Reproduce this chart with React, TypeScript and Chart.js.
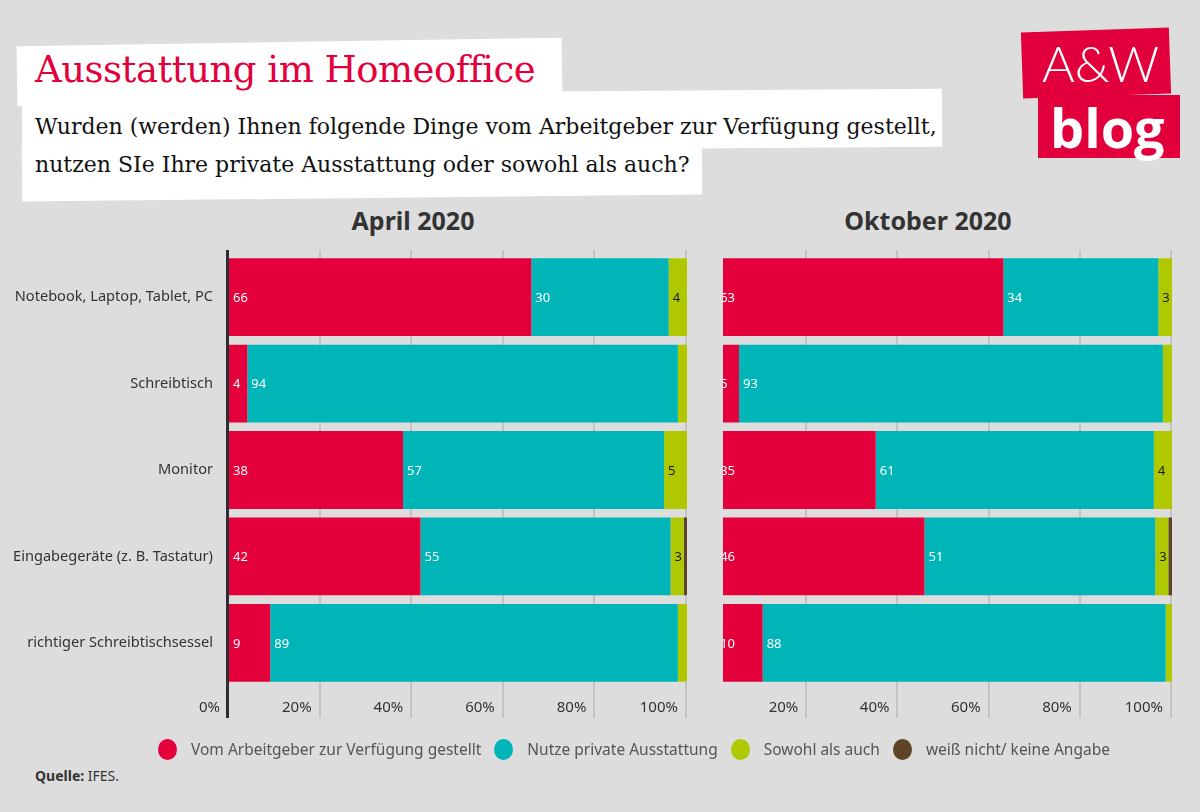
import React, { useEffect, useRef } from "react";
import { Chart, registerables } from "chart.js";

Chart.register(...registerables);

// ---------- data ----------
const categories = [
  "Notebook, Laptop, Tablet, PC",
  "Schreibtisch",
  "Monitor",
  "Eingabegeräte (z. B. Tastatur)",
  "richtiger Schreibtischsessel",
];
const seriesNames = [
  "Vom Arbeitgeber zur Verfügung gestellt",
  "Nutze private Ausstattung",
  "Sowohl als auch",
  "weiß nicht/ keine Angabe",
];
const seriesColors = ["#e4003b", "#00b5b8", "#b0c800", "#5e4426"];
const labelColors = ["#ffffff", "#ffffff", "#1a1a1a", "#ffffff"];

const aprilEmployer = [66, 4, 38, 41.8, 9];
const aprilPrivate = [30, 94, 57, 54.6, 89];
const aprilBoth = [4, 2, 5, 2.9, 2];
const aprilUnknown = [0, 0, 0, 0.7, 0];

const octEmployer = [63, 5, 35, 45.7, 10.2];
const octPrivate = [34, 93, 61, 50.6, 88.4];
const octBoth = [3, 2, 4, 2.9, 1.4];
const octUnknown = [0, 0, 0, 0.8, 0];

const xTickValues = [0, 20, 40, 60, 80, 100];
const panelTitles = ["April 2020", "Oktober 2020"];

const FONT = "'Noto Sans', 'DejaVu Sans', sans-serif";

const decorPlugin = {
  id: "decor",
  beforeDatasetsDraw(chart: any, _a: any, opts: any) {
    const { ctx, chartArea: ca } = chart;
    const x = chart.scales.x;
    ctx.save();
    ctx.strokeStyle = "#c3c3c3";
    ctx.lineWidth = 2;
    for (const v of xTickValues) {
      if (v <= x.min) continue;
      const px = Math.round(x.getPixelForValue(v)) - 1;
      ctx.beginPath();
      ctx.moveTo(px, ca.top - 4);
      ctx.lineTo(px, ca.bottom + 32);
      ctx.stroke();
    }
    ctx.fillStyle = "#333333";
    ctx.font = `15px ${FONT}`;
    ctx.textAlign = "right";
    ctx.textBaseline = "middle";
    for (const v of xTickValues) {
      if (v < x.min) continue;
      ctx.fillText(v + "%", x.getPixelForValue(v) - 9, ca.bottom + 22);
    }
    ctx.restore();
  },
  afterDatasetsDraw(chart: any, _a: any, opts: any) {
    const { ctx, chartArea: ca } = chart;
    ctx.save();
    ctx.beginPath();
    ctx.rect(ca.left, ca.top - 10, ca.right - ca.left, ca.bottom - ca.top + 20);
    ctx.clip();
    ctx.font = `13px ${FONT}`;
    ctx.textAlign = "left";
    ctx.textBaseline = "middle";
    chart.data.datasets.forEach((ds: any, i: number) => {
      const meta = chart.getDatasetMeta(i);
      meta.data.forEach((bar: any, j: number) => {
        const v = ds.data[j];
        if (v < 2.5) return;
        const left = Math.min(bar.x, bar.base);
        ctx.fillStyle = labelColors[i];
        ctx.fillText(String(Math.round(v)), left + 4, bar.y + 1);
      });
    });
    ctx.restore();
    if (opts && opts.axisLine) {
      ctx.save();
      ctx.strokeStyle = "#2e2e2e";
      ctx.lineWidth = 3;
      ctx.beginPath();
      ctx.moveTo(ca.left - 1.5, ca.top - 4);
      ctx.lineTo(ca.left - 1.5, ca.bottom + 32);
      ctx.stroke();
      ctx.restore();
    }
  },
};

function Panel(props: {
  series: number[][];
  showLabels: boolean;
  xMin: number;
  left: number;
  width: number;
  padLeft: number;
  padRight: number;
}) {
  const ref = useRef<HTMLCanvasElement | null>(null);
  useEffect(() => {
    if (!ref.current) return;
    const chart = new Chart(ref.current, {
      type: "bar",
      data: {
        labels: categories,
        datasets: props.series.map((d, i) => ({
          label: seriesNames[i],
          data: d,
          backgroundColor: seriesColors[i],
          borderWidth: 0,
          barPercentage: 0.9,
          categoryPercentage: 1,
        })),
      },
      options: {
        indexAxis: "y",
        responsive: false,
        animation: false,
        layout: { padding: { top: 14, right: props.padRight, bottom: 54, left: props.padLeft } },
        plugins: {
          legend: { display: false },
          tooltip: { enabled: false },
          decor: { axisLine: props.showLabels },
        } as any,
        scales: {
          x: { stacked: true, min: props.xMin, max: 100, display: false },
          y: props.showLabels
            ? {
                stacked: true,
                grid: { display: false, drawTicks: false },
                border: { display: false },
                ticks: { color: "#333333", font: { family: FONT, size: 14.6 }, padding: 16 },
                afterFit: (s: any) => {
                  s.width = 229;
                  s.paddingTop = 0;
                  s.paddingBottom = 0;
                },
              }
            : { stacked: true, display: false },
        },
      } as any,
      plugins: [decorPlugin],
    });
    return () => chart.destroy();
  }, []);
  return (
    <canvas
      ref={ref}
      width={props.width}
      height={500}
      style={{ position: "absolute", left: props.left, top: 240, width: props.width, height: 500 }}
    />
  );
}

export default function App() {
  const white = "#ffffff";
  return (
    <div
      style={{
        position: "absolute",
        left: 0,
        top: 0,
        width: 1200,
        height: 812,
        background: "#dddddd",
        overflow: "hidden",
        fontFamily: FONT,
      }}
    >
      {/* title stickers */}
      <div style={{ position: "absolute", left: 17, top: 42, width: 545, height: 60, background: white, transform: "rotate(-0.9deg)" }} />
      <div style={{ position: "absolute", left: 22, top: 92, width: 920, height: 58, background: white, transform: "rotate(-0.4deg)" }} />
      <div style={{ position: "absolute", left: 22, top: 140, width: 680, height: 58, background: white, transform: "rotate(-0.6deg)" }} />
      <div
        style={{
          position: "absolute",
          left: 35,
          top: 45,
          fontFamily: "'DejaVu Serif', serif",
          fontSize: 37,
          lineHeight: "50px",
          color: "#e2003c",
          whiteSpace: "nowrap",
          letterSpacing: -0.5,
        }}
      >
        Ausstattung im Homeoffice
      </div>
      <div
        style={{
          position: "absolute",
          left: 35,
          top: 108,
          fontFamily: "'DejaVu Serif', serif",
          fontSize: 22,
          lineHeight: "38px",
          color: "#111111",
          whiteSpace: "nowrap",
        }}
      >
        Wurden (werden) Ihnen folgende Dinge vom Arbeitgeber zur Verfügung gestellt,
        <br />
        nutzen SIe Ihre private Ausstattung oder sowohl als auch?
      </div>

      {/* logo */}
      <div style={{ position: "absolute", left: 1022, top: 30, width: 148, height: 66, background: "#e2003c", transform: "rotate(-2deg)" }} />
      <div style={{ position: "absolute", left: 1038, top: 95, width: 142, height: 63, background: "#e2003c" }} />
      <div style={{ position: "absolute", left: 1042, top: 31, fontFamily: "Lato, sans-serif", fontWeight: 300, fontSize: 50, lineHeight: "64px", color: white }}>
        A&amp;W
      </div>
      <div style={{ position: "absolute", left: 1050, top: 96, fontFamily: "'Open Sans', sans-serif", fontWeight: 700, fontSize: 54, lineHeight: "62px", color: white }}>
        blog
      </div>

      {/* panel titles */}
      <div style={{ position: "absolute", left: 263, width: 300, top: 203, textAlign: "center", fontWeight: 700, fontSize: 25, color: "#333333" }}>
        {panelTitles[0]}
      </div>
      <div style={{ position: "absolute", left: 778, width: 300, top: 203, textAlign: "center", fontWeight: 700, fontSize: 25, color: "#333333" }}>
        {panelTitles[1]}
      </div>

      <Panel
        series={[aprilEmployer, aprilPrivate, aprilBoth, aprilUnknown]}
        showLabels={true}
        xMin={0}
        left={0}
        width={700}
        padLeft={0}
        padRight={13}
      />
      <Panel
        series={[octEmployer, octPrivate, octBoth, octUnknown]}
        showLabels={false}
        xMin={1.5}
        left={700}
        width={500}
        padLeft={23}
        padRight={28}
      />

      {/* legend */}
      <div style={{ position: "absolute", left: 158, top: 738, display: "flex", alignItems: "center", height: 22 }}>
        {seriesNames.map((n, i) => (
          <div key={n} style={{ display: "flex", alignItems: "center", marginRight: 13 }}>
            <div style={{ width: 19, height: 21, borderRadius: "50%", background: seriesColors[i], marginRight: 14 }} />
            <span style={{ fontSize: 15.5, color: "#555555", whiteSpace: "nowrap" }}>{n}</span>
          </div>
        ))}
      </div>

      <div style={{ position: "absolute", left: 35, top: 766, fontSize: 14, color: "#333333" }}>
        <b>Quelle:</b> IFES.
      </div>
    </div>
  );
}
